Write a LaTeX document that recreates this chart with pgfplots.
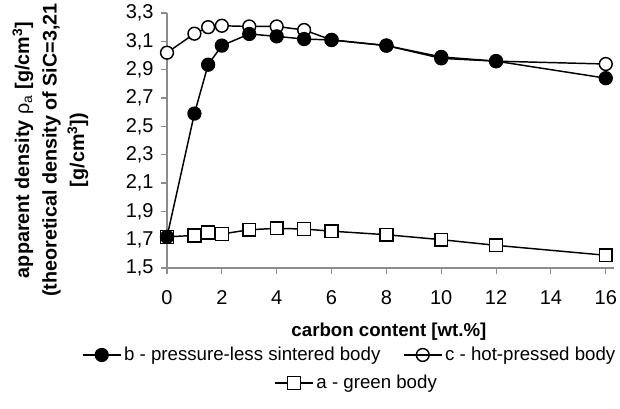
\documentclass[border=0pt]{standalone}
\usepackage{pgfplots}
\pgfplotsset{compat=1.18}
\usepackage{fontspec}
\setmainfont{Liberation Sans}
\begin{document}
\begin{tikzpicture}
\useasboundingbox (-125.25pt,-105pt) rectangle (339.75pt,201pt);
\pgfplotsset{
  mystyle/.style={
    scale only axis, width=335.25pt, height=191.25pt,
    xmin=0, xmax=16.3, ymin=1.5, ymax=3.3,
  },
  mylegend/.style={
    legend style={draw=none, fill=none, anchor=center,
      font=\fontsize{14}{17}\selectfont,
      /tikz/every even column/.append style={column sep=15pt}},
    legend cell align=left,
    legend image code/.code={\draw[mark repeat=2,mark phase=2,##1] plot coordinates {(0cm,0cm) (0.5cm,0cm) (1cm,0cm)};},
  },
}
\begin{axis}[mystyle, mylegend,
  /pgf/number format/assume math mode=true,
  axis lines=left,
  axis line style={-, draw=black!45, line width=0.8pt},
  tick style={draw=black!45, line width=0.8pt},
  tick align=outside, major tick length=4.5pt,
  xtick={0,2,4,6,8,10,12,14,16},
  ytick={1.5,1.7,1.9,2.1,2.3,2.5,2.7,2.9,3.1,3.3},
  yticklabel style={xshift=-2pt, /pgf/number format/.cd, use comma, fixed, fixed zerofill, precision=1},
  xticklabel style={yshift=-9pt},
  ticklabel style={font=\fontsize{15}{18}\selectfont},
  xlabel={carbon content [wt.\%]},
  xlabel style={at={(axis description cs:0.4966,-0.251)}, anchor=center, font=\bfseries\fontsize{14}{17}\selectfont},
  ylabel={apparent density {\mdseries ρ\textsubscript{a}} {[}g/cm\textsuperscript{3}{]}\\(theoretical density of SiC=3,21\\{[}g/cm\textsuperscript{3}{]})},
  ylabel style={at={(axis description cs:-0.2607,0.4627)}, anchor=center, align=center, font=\bfseries\fontsize{14.8}{20.6}\selectfont},
  legend columns=2,
  legend style={at={(axis description cs:0.4094,-0.341)}},
  every axis plot/.append style={line width=1.1pt, black},
]
\addlegendimage{black, line width=1.1pt, mark=*, mark size=4.8pt, mark options={fill=black}}
\addlegendentry{b - pressure-less sintered body}
\addlegendimage{black, line width=1.1pt, mark=o, mark size=4.8pt, mark options={fill=white}}
\addlegendentry{c - hot-pressed body}
% a - green body
\addplot[forget plot, mark=square*, mark size=4.8pt, mark options={fill=white}] coordinates {
(0,1.72) (1,1.73) (1.5,1.75) (2,1.74) (3,1.77) (4,1.78) (5,1.775) (6,1.76) (8,1.735) (10,1.70) (12,1.66) (16,1.59)};
% c - hot-pressed body
\addplot[forget plot, mark=*, mark size=4.8pt, mark options={fill=white}] coordinates {
(0,3.02) (1,3.154) (1.5,3.20) (2,3.21) (3,3.205) (4,3.205) (5,3.18) (6,3.11) (8,3.07) (10,2.98) (12,2.96) (16,2.94)};
% b - pressure-less sintered body
\addplot[forget plot, mark=*, mark size=4.8pt, mark options={fill=black}] coordinates {
(0,1.72) (1,2.59) (1.5,2.935) (2,3.07) (3,3.152) (4,3.135) (5,3.116) (6,3.11) (8,3.07) (10,2.99) (12,2.96) (16,2.84)};
\end{axis}
\begin{axis}[mystyle, mylegend, hide axis,
  legend style={at={(axis description cs:0.425,-0.451)}}]
\addlegendimage{black, line width=1.1pt, mark=square*, mark size=4.8pt, mark options={fill=white}}
\addlegendentry{a - green body}
\end{axis}
\end{tikzpicture}
\end{document}
